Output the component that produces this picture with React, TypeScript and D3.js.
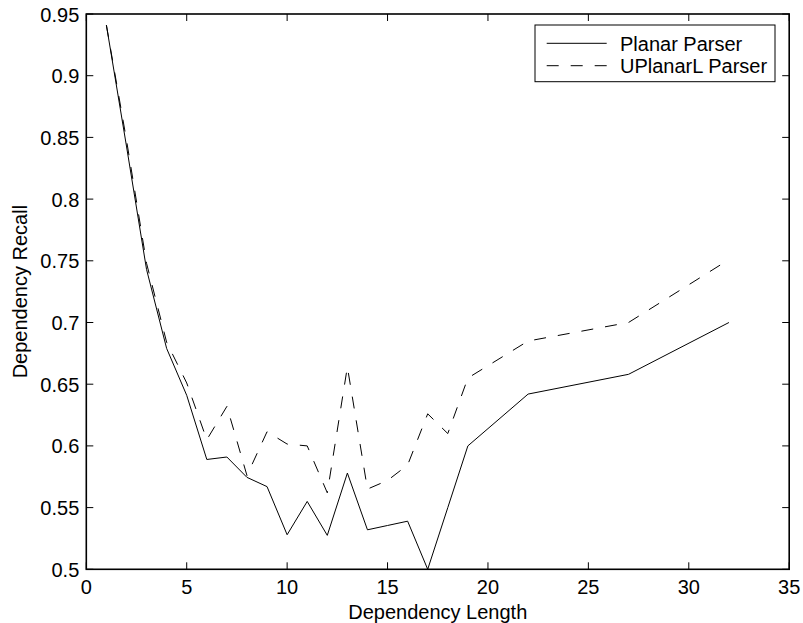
import React from "react";
import * as d3 from "d3";

const lengths = [1, 2, 3, 4, 5, 6, 7, 8, 9, 10, 11, 12, 13, 14, 15, 16, 17, 18, 19, 22, 27, 32];
const planar = [0.941, 0.843, 0.743, 0.679, 0.641, 0.589, 0.591, 0.5745, 0.567, 0.528, 0.555, 0.5275, 0.578, 0.532, 0.5355, 0.539, 0.5, 0.55, 0.6, 0.642, 0.658, 0.7];
const uplanarL = [0.941, 0.848, 0.748, 0.684, 0.651, 0.605, 0.632, 0.576, 0.6115, 0.6015, 0.6, 0.562, 0.664, 0.565, 0.572, 0.5845, 0.626, 0.61, 0.655, 0.685, 0.7, 0.751];
const xTicks = [0, 5, 10, 15, 20, 25, 30, 35];
const yTicks = [0.5, 0.55, 0.6, 0.65, 0.7, 0.75, 0.8, 0.85, 0.9, 0.95];
const seriesNames = ["Planar Parser", "UPlanarL Parser"];

const W = 803;
const H = 623;
const L = 86.3, R = 789.2, T = 14, B = 569.3;
const FONT = "'Liberation Sans', Arial, Helvetica, sans-serif";

export default function App() {
  const x = d3.scaleLinear().domain([0, 35]).range([L, R]);
  const y = d3.scaleLinear().domain([0.5, 0.95]).range([B, T]);
  const line = d3
    .line<[number, number]>()
    .x((d) => x(d[0]))
    .y((d) => y(d[1]));
  const pData: [number, number][] = lengths.map((l, i) => [l, planar[i]]);
  const uData: [number, number][] = lengths.map((l, i) => [l, uplanarL[i]]);
  const tl = 7;
  const fmt = (v: number) => String(+v.toFixed(2));

  return (
    <svg
      width={W}
      height={H}
      style={{ position: "absolute", left: 0, top: 0, background: "#fff" }}
      fontFamily={FONT}
    >
      <rect x={0} y={0} width={W} height={H} fill="#fff" />
      {/* data lines */}
      <path d={line(pData) || ""} fill="none" stroke="#000" strokeWidth={1} />
      <path d={line(uData) || ""} fill="none" stroke="#000" strokeWidth={1} strokeDasharray="12,12" />

      {/* ticks */}
      {xTicks.map((t) => (
        <g key={"x" + t}>
          <line x1={x(t)} x2={x(t)} y1={B} y2={B - tl} stroke="#000" strokeWidth={1} />
          <line x1={x(t)} x2={x(t)} y1={T} y2={T + tl} stroke="#000" strokeWidth={1} />
          <text x={x(t)} y={594} fontSize={20} textAnchor="middle" fill="#000">
            {fmt(t)}
          </text>
        </g>
      ))}
      {yTicks.map((t) => (
        <g key={"y" + t}>
          <line x1={L} x2={L + tl} y1={y(t)} y2={y(t)} stroke="#000" strokeWidth={1} />
          <line x1={R} x2={R - tl} y1={y(t)} y2={y(t)} stroke="#000" strokeWidth={1} />
          <text x={79.3} y={y(t) + 7.5} fontSize={20} textAnchor="end" fill="#000">
            {fmt(t)}
          </text>
        </g>
      ))}

      {/* axes box */}
      <rect x={L} y={T} width={R - L} height={B - T} fill="none" stroke="#000" strokeWidth={1.6} />

      {/* axis labels */}
      <text x={(L + R) / 2} y={619} fontSize={20} textAnchor="middle" fill="#000">
        Dependency Length
      </text>
      <text
        transform={`translate(27,${(T + B) / 2}) rotate(-90)`}
        fontSize={20}
        textAnchor="middle"
        fill="#000"
      >
        Dependency Recall
      </text>

      {/* legend */}
      <rect x={535} y={25} width={240} height={56.7} fill="#fff" stroke="#000" strokeWidth={1} />
      <line x1={546.7} x2={606.7} y1={43.3} y2={43.3} stroke="#000" strokeWidth={1} />
      <line x1={546.7} x2={606.7} y1={65.7} y2={65.7} stroke="#000" strokeWidth={1} strokeDasharray="12,12" />
      <text x={620} y={50.5} fontSize={20} fill="#000">
        {seriesNames[0]}
      </text>
      <text x={620} y={72.8} fontSize={20} fill="#000">
        {seriesNames[1]}
      </text>
    </svg>
  );
}
